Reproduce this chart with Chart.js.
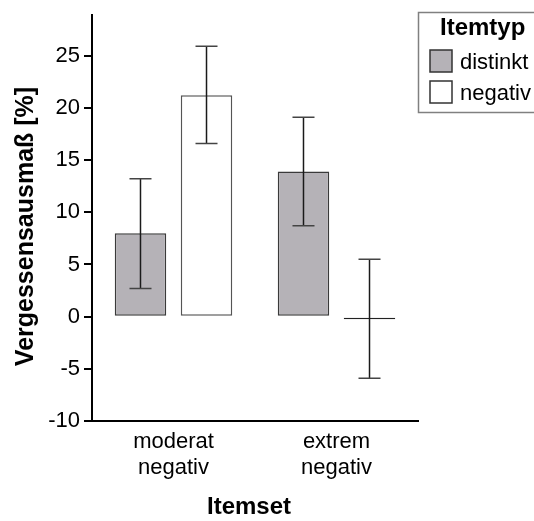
<!DOCTYPE html>
<html>
<head>
<meta charset="utf-8">
<script src="https://cdn.jsdelivr.net/npm/chart.js@4/dist/chart.umd.min.js"></script>
<style>
  html, body { margin: 0; padding: 0; background: #fff; }
  #wrap { width: 534px; height: 521px; position: relative; }
</style>
</head>
<body>
<div id="wrap"><canvas id="c"></canvas></div>
<script>
// ---- data ----
const categories = [['moderat', 'negativ'], ['extrem', 'negativ']];
const seriesNames = ['distinkt', 'negativ'];
const distinktValues = [8.0, 13.9];
const distinktLow = [2.7, 8.7];
const distinktHigh = [13.2, 19.1];
const negativValues = [21.2, -0.25];
const negativLow = [16.6, -5.9];
const negativHigh = [25.9, 5.5];
const yTickValues = [-10, -5, 0, 5, 10, 15, 20, 25];
const yTitle = 'Vergessensausmaß [%]';
const xTitle = 'Itemset';
const legendTitle = 'Itemtyp';

const FONT = 'Arial, "Liberation Sans", sans-serif';
const errorLows = [distinktLow, negativLow];
const errorHighs = [distinktHigh, negativHigh];

const errorBarPlugin = {
  id: 'errorBars',
  afterDatasetsDraw(chart) {
    const ctx = chart.ctx;
    const yScale = chart.scales.y;
    ctx.save();
    chart.data.datasets.forEach((ds, di) => {
      const meta = chart.getDatasetMeta(di);
      meta.data.forEach((bar, i) => {
        const x = bar.x;
        const yLo = yScale.getPixelForValue(errorLows[di][i]);
        const yHi = yScale.getPixelForValue(errorHighs[di][i]);
        ctx.strokeStyle = '#1a1a1a';
        ctx.lineWidth = 1.5;
        ctx.beginPath();
        ctx.moveTo(x, yLo); ctx.lineTo(x, yHi);
        ctx.stroke();
        ctx.strokeStyle = '#444';
        ctx.beginPath();
        ctx.moveTo(x - 11, yLo); ctx.lineTo(x + 11, yLo);
        ctx.moveTo(x - 11, yHi); ctx.lineTo(x + 11, yHi);
        ctx.stroke();
      });
    });
    ctx.restore();
  }
};

const titlesAndLegendPlugin = {
  id: 'titlesAndLegend',
  afterDraw(chart) {
    const ctx = chart.ctx;
    ctx.save();
    // axis titles
    ctx.fillStyle = '#000';
    ctx.textAlign = 'center';
    ctx.textBaseline = 'middle';
    ctx.font = 'bold 25px ' + FONT;
    ctx.save();
    ctx.translate(26, 226.5);
    ctx.rotate(-Math.PI / 2);
    ctx.fillText(yTitle, 0, 0);
    ctx.restore();
    ctx.font = 'bold 24px ' + FONT;
    ctx.fillText(xTitle, 249, 507.5);
    // legend
    ctx.strokeStyle = '#808080';
    ctx.lineWidth = 1.5;
    ctx.strokeRect(418.5, 12.5, 140, 100);
    ctx.textBaseline = 'alphabetic';
    ctx.textAlign = 'left';
    ctx.font = 'bold 24px ' + FONT;
    ctx.fillText(legendTitle, 440, 35);
    ctx.font = '22px ' + FONT;
    const boxY = [50, 81];
    const textY = [69, 100];
    chart.data.datasets.forEach((ds, i) => {
      ctx.fillStyle = ds.backgroundColor;
      ctx.fillRect(430, boxY[i], 22, 22);
      ctx.strokeStyle = '#333';
      ctx.lineWidth = 1.5;
      ctx.strokeRect(430, boxY[i], 22, 22);
      ctx.fillStyle = '#000';
      ctx.fillText(ds.label, 460, textY[i]);
    });
    ctx.restore();
  }
};

new Chart(document.getElementById('c'), {
  type: 'bar',
  data: {
    labels: categories,
    datasets: [
      { label: seriesNames[0], data: distinktValues, backgroundColor: '#b5b2b7', borderColor: '#3a3a3a', borderWidth: 1.5, borderSkipped: false, inflateAmount: 0 },
      { label: seriesNames[1], data: negativValues, backgroundColor: '#ffffff', borderColor: ['#555555', '#222222'], borderWidth: [1.5, 2], borderSkipped: false, inflateAmount: 0 }
    ]
  },
  options: {
    responsive: true,
    maintainAspectRatio: false,
    animation: false,
    layout: { padding: { top: 12, right: 116, left: 0, bottom: 0 } },
    datasets: { bar: { categoryPercentage: 0.81, barPercentage: 0.78 } },
    plugins: { legend: { display: false }, tooltip: { enabled: false } },
    scales: {
      x: {
        grid: { display: false, drawTicks: false },
        border: { display: true, color: '#000', width: 2 },
        ticks: { color: '#000', padding: 8, font: { family: FONT, size: 22, lineHeight: 1.18 }, maxRotation: 0 },
        title: { display: false },
        afterFit(s) { s.height = 100; }
      },
      y: {
        min: -10,
        max: 28.9,
        grid: { display: true, drawOnChartArea: false, drawTicks: true, tickLength: 8, color: '#000', lineWidth: 2 },
        border: { display: true, color: '#000', width: 2 },
        ticks: { color: '#000', padding: 4, font: { family: FONT, size: 22, lineHeight: 1 } },
        afterBuildTicks(s) { s.ticks = yTickValues.map(v => ({ value: v })); },
        title: { display: false },
        afterFit(s) { s.width = 92; }
      }
    }
  },
  plugins: [errorBarPlugin, titlesAndLegendPlugin]
});
</script>
</body>
</html>
